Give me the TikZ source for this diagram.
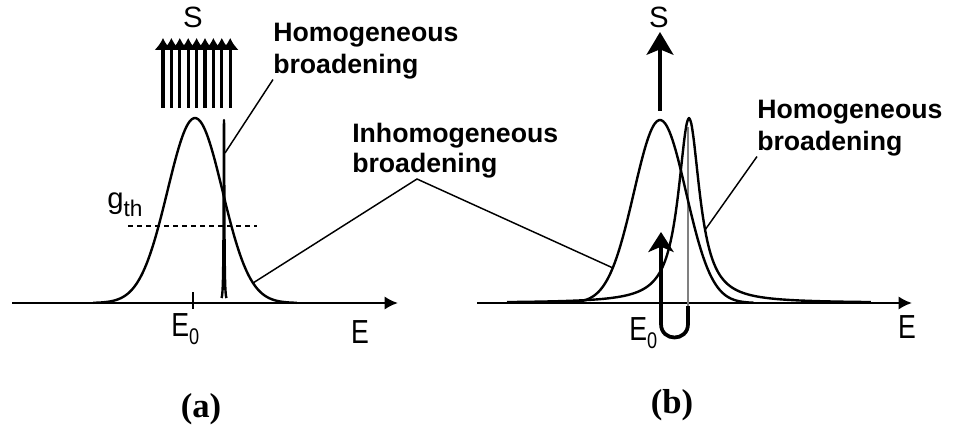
\documentclass[tikz,border=0pt]{standalone}
\usepackage{fontspec}
\setmainfont{Liberation Sans}
\newfontfamily\capfont{Liberation Serif}
\newfontfamily\narrowfont[FakeStretch=0.8]{Liberation Sans}
\usepackage{tikz}
\usetikzlibrary{arrows.meta,calc,positioning}

\begin{document}
\begin{tikzpicture}[x=0.75pt,y=-0.75pt,>=Latex,
    axis/.style={line width=2.2pt,-{Latex[length=10pt,width=10pt]}},
    curve/.style={line width=1.8pt,line join=round},
    leader/.style={line width=1.1pt},
    lab/.style={font=\fontsize{20}{24}\selectfont\bfseries,align=left,
      inner sep=0pt,anchor=north west},
    sym/.style={font=\fontsize{22}{22}\selectfont,inner sep=0pt},
    enode/.style={font=\fontsize{25}{25}\narrowfont,inner sep=0pt,anchor=base},
    capt/.style={font=\fontsize{26}{26}\capfont\bfseries,inner sep=0pt}]
  \useasboundingbox (0,0) rectangle (953,431);

  % (a) inhomogeneous line with many lasing modes
  \draw[axis] (12,303) -- (398,303);
  \draw[line width=1.6pt] (193,292) -- (193,309);
  \draw[curve] plot[domain=-3.7:3.7,samples=90,smooth]
    ({195+27.5*\x},{303-185*exp(-0.5*\x*\x)});
  \draw[curve] plot[domain=-6:6,samples=61,smooth]
    ({224+0.4*\x},{303-183/(1+\x*\x)});
  \draw[line width=1.6pt,dash pattern=on 3.75pt off 3pt] (128,226) -- (257,226);
  \foreach \i in {0,...,8}
    \draw[line width=2.3pt,-{Latex[length=9pt,width=13pt]}]
      ({163+8.4*\i},108) -- ({163+8.4*\i},38);
  \node[sym] (sA) at (193,17) {S};
  \node[anchor=base west,inner sep=0pt,font=\fontsize{22}{22}\selectfont]
    (gth) at (107,209) {g\raisebox{-5.5pt}{\fontsize{17}{17}\selectfont th}};
  \node[enode,anchor=base west] (e0A) at (171,336)
    {E\raisebox{-6pt}{\fontsize{17}{17}\selectfont 0}};
  \node[enode] (eA) at (360,343) {E};
  \node[lab] (homA) at (273,23) {Homogeneous\\broadening};
  \coordinate (spikeA) at (225,153);
  \draw[leader] (homA.south west) -- (spikeA);
  \node[capt] (capA) at (201,409) {(a)};

  % shared label
  \node[lab,font=\fontsize{20}{22.5}\selectfont\bfseries] (inhom) at (352,123)
    {Inhomogeneous\\broadening};
  \coordinate (inhTip) at (417,179);
  \coordinate (gaussA) at (253,283);
  \coordinate (gaussB) at (613,268);
  \draw[leader] (gaussA) -- (inhTip) -- (gaussB);

  % (b) single mode after spectral hole burning
  \draw[axis] (477,303) -- (912,303);
  \draw[line width=1pt,gray] (688,127) -- (688,306);
  \draw[curve] plot[domain=-3.6:3.6,samples=90,smooth]
    ({660+26*\x},{303-183*exp(-0.5*\x*\x)});
  \draw[curve] plot[domain=-14:14,samples=161,smooth]
    ({689+13*\x},{303-185/(1+\x*\x)});
  \draw[line width=3.2pt,-{Stealth[length=17pt,width=20pt,inset=4pt]}]
    (660,111) -- (660,32);
  \draw[line width=2.8pt,line join=round,-{Stealth[length=15pt,width=19pt,inset=4pt]}]
    (688,306) -- (688,324) .. controls (688,342) and (661,342) .. (661,324)
    -- (661,232);
  \node[sym] (sB) at (659,17) {S};
  \node[enode,anchor=base west] (e0B) at (629,340)
    {E\raisebox{-6pt}{\fontsize{17}{17}\selectfont 0}};
  \node[enode] (eB) at (907,338) {E};
  \node[lab] (homB) at (757,100) {Homogeneous\\broadening};
  \coordinate (lorB) at (705,230);
  \draw[leader] (homB.south west) -- (lorB);
  \node[capt] (capB) at (672,405) {(b)};
\end{tikzpicture}
\end{document}
